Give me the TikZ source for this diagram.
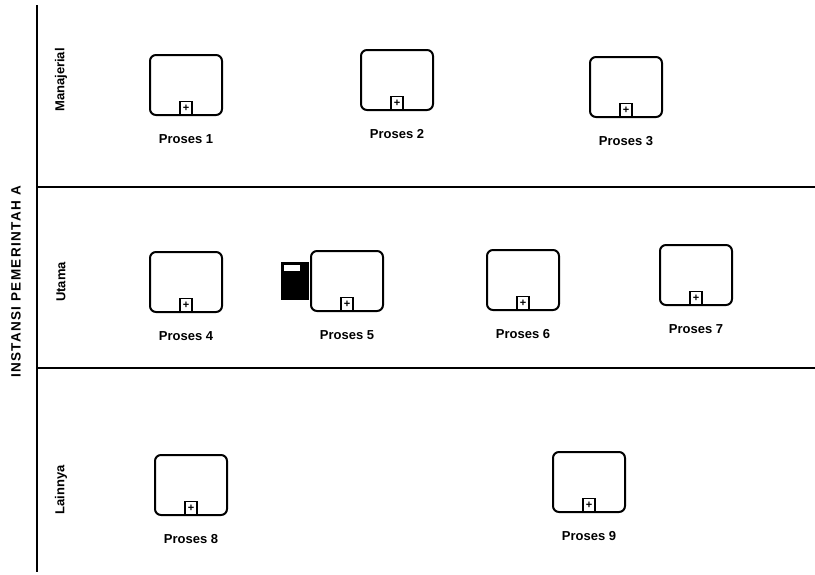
\documentclass[tikz,border=0pt]{standalone}
\usepackage{fontspec}
\setmainfont{Liberation Sans}
\usetikzlibrary{positioning, calc}
\tikzset{
  every picture/.style={line width=1.6pt},
  task/.style={draw=black, line width=2pt, rounded corners=6pt, minimum width=72pt, minimum height=60pt, inner sep=0pt},
  marker/.style={draw=black, line width=1.4pt, minimum width=12pt, minimum height=14pt, inner sep=0pt, font=\bfseries\fontsize{11}{11}\selectfont},
  tasklabel/.style={font=\bfseries\fontsize{13}{15}\selectfont, inner sep=1pt},
  lanelabel/.style={font=\bfseries\fontsize{13}{15}\selectfont, rotate=90},
  poollabel/.style={font=\bfseries\fontsize{13.5}{15}\selectfont\addfontfeatures{LetterSpace=10}, rotate=90},
  lane/.style={line width=1.3pt},
}

\begin{document}
\begin{tikzpicture}[x=1pt, y=-1pt]
  \useasboundingbox (0,0) rectangle (815,574);
  % pool and lanes
  \draw (37,5) -- (37,572);
  \draw[lane] (37,187) -- (815,187);
  \draw[lane] (37,368) -- (815,368);
  \node[poollabel] (pool) at (16,282) {INSTANSI PEMERINTAH A};
  \node[lanelabel] (lane1) at (61,80) {Manajerial};
  \node[lanelabel] (lane2) at (61,282) {Utama};
  \node[lanelabel] (lane3) at (61,490) {Lainnya};
  % collapsed sub-processes
  \foreach \n/\x/\y in {1/186/85, 2/397/80, 3/626/87, 4/186/282, 5/347/281, 6/523/280, 7/696/275, 8/191/485, 9/589/482} {
    \node[task] (p\n) at (\x,\y) {};
    \node[marker, anchor=south] (m\n) at (p\n.south) {+};
    \node[tasklabel, below=17pt of p\n] (l\n) {Proses \n};
  }
  % data object next to Proses 5
  \node[fill=black, minimum width=28pt, minimum height=38pt, inner sep=0pt, left=0pt of p5] (doc5) {};
  \node[fill=white, minimum width=16pt, minimum height=6pt, inner sep=0pt, anchor=north west] (doc5top) at ($(doc5.north west)+(3,3)$) {};
\end{tikzpicture}
\end{document}
